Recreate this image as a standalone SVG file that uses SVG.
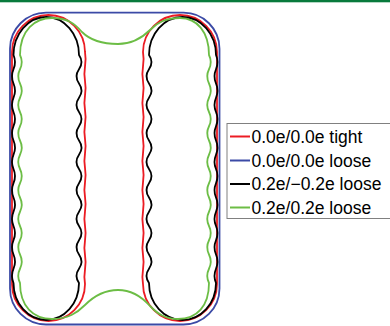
<svg xmlns="http://www.w3.org/2000/svg" width="390" height="326" viewBox="0 0 390 326">
<style>
.c{fill:none;stroke-width:1.8;stroke-linejoin:round}
.r{stroke:#ec1c24}.b{stroke:#3b4aa6}.k{stroke:#000}.g{stroke:#6cbd45}
.lt{font-family:"Liberation Sans",Arial,sans-serif;font-size:17.5px;fill:#000}
</style>
<rect x="0" y="0" width="390" height="326" fill="#fff"/>
<rect x="0" y="0" width="390" height="2.3" fill="#087a3c"/>
<g id="curves">
<g id="red">
<path class="c r" d="M12,52 A36.5,37 0 0 1 85,52 q1.2,7 0,14.5 t0,14.5 t0,14.5 t0,14.5 t0,14.5 t0,14.5 t0,14.5 t0,14.5 t0,14.5 t0,14.5 t0,14.5 t0,14.5 t0,14.5 t0,14.5 t0,14.5 t0,14.5 A36.5,37 0 0 1 12,284 Z"/>
<path class="c r" d="M143,52 A37,37 0 0 1 217,52 L217,284 A37,37 0 0 1 143,284 q-1.2,-7 0,-14.5 t0,-14.5 t0,-14.5 t0,-14.5 t0,-14.5 t0,-14.5 t0,-14.5 t0,-14.5 t0,-14.5 t0,-14.5 t0,-14.5 t0,-14.5 t0,-14.5 t0,-14.5 t0,-14.5 t0,-14.5 Z"/>
</g>
<g id="blue">
<rect class="c b" x="10" y="12.7" width="209.5" height="311.8" rx="36" ry="36"/>
</g>
<g id="black">
<path class="c k" d="M13.5,55 A32.75,38 0 0 1 79,55 q5,7.125 0,14.25 t0,14.25 t0,14.25 t0,14.25 t0,14.25 t0,14.25 t0,14.25 t0,14.25 t0,14.25 t0,14.25 t0,14.25 t0,14.25 t0,14.25 t0,14.25 t0,14.25 t0,14.25 A32.75,37 0 0 1 13.5,283 q-3,-7.125 0,-14.25 t0,-14.25 t0,-14.25 t0,-14.25 t0,-14.25 t0,-14.25 t0,-14.25 t0,-14.25 t0,-14.25 t0,-14.25 t0,-14.25 t0,-14.25 t0,-14.25 t0,-14.25 t0,-14.25 t0,-14.25 Z"/>
<path class="c k" d="M149,55 A33.5,38 0 0 1 216,55 q3,7.125 0,14.25 t0,14.25 t0,14.25 t0,14.25 t0,14.25 t0,14.25 t0,14.25 t0,14.25 t0,14.25 t0,14.25 t0,14.25 t0,14.25 t0,14.25 t0,14.25 t0,14.25 t0,14.25 A33.5,37 0 0 1 149,283 q-5,-7.125 0,-14.25 t0,-14.25 t0,-14.25 t0,-14.25 t0,-14.25 t0,-14.25 t0,-14.25 t0,-14.25 t0,-14.25 t0,-14.25 t0,-14.25 t0,-14.25 t0,-14.25 t0,-14.25 t0,-14.25 t0,-14.25 Z"/>
</g>
<g id="green">
<path class="c g" d="M20,283 q-3.5,-7.125 0,-14.25 t0,-14.25 t0,-14.25 t0,-14.25 t0,-14.25 t0,-14.25 t0,-14.25 t0,-14.25 t0,-14.25 t0,-14.25 t0,-14.25 t0,-14.25 t0,-14.25 t0,-14.25 t0,-14.25 t0,-14.25 C20,30 35,18 52,18 C68,18 75,24 82,32 C92,42 105,44 118,44 C131,44 142,38 150,30 C158,22 166,18 180,18 C197,18 209,32 209,55 q3.5,7.125 0,14.25 t0,14.25 t0,14.25 t0,14.25 t0,14.25 t0,14.25 t0,14.25 t0,14.25 t0,14.25 t0,14.25 t0,14.25 t0,14.25 t0,14.25 t0,14.25 t0,14.25 t0,14.25 C209,306 197,319 178,319 C165,319 158,314 150,306 C142,297 131,290 118,290 C105,290 94,296 85,305 C77,313 68,319 52,319 C33,319 20,306 20,283 Z"/>
</g>
</g>
<g id="legend">
<rect x="227" y="123.5" width="170" height="95" fill="#fff" stroke="#808080" stroke-width="1"/>
<line x1="230" y1="136.5" x2="250" y2="136.5" stroke="#ec1c24" stroke-width="2"/>
<line x1="230" y1="160.5" x2="250" y2="160.5" stroke="#3b4aa6" stroke-width="2"/>
<line x1="230" y1="184" x2="250" y2="184" stroke="#000" stroke-width="2"/>
<line x1="230" y1="207.5" x2="250" y2="207.5" stroke="#6cbd45" stroke-width="2"/>
<text class="lt" x="251.5" y="142.5">0.0e/0.0e tight</text>
<text class="lt" x="251.5" y="166.5">0.0e/0.0e loose</text>
<text class="lt" x="251.5" y="190">0.2e/−0.2e loose</text>
<text class="lt" x="251.5" y="213.5">0.2e/0.2e loose</text>
</g>
</svg>
